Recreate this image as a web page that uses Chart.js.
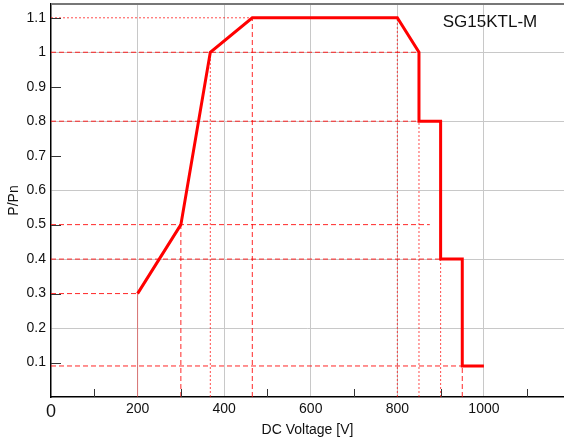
<!DOCTYPE html>
<html>
<head>
<meta charset="utf-8">
<script src="https://cdn.jsdelivr.net/npm/chart.js@4.4.1/dist/chart.umd.min.js"></script>
<style>
  html, body { margin: 0; padding: 0; background: #fff; }
  #wrap { width: 564px; height: 444px; }
</style>
</head>
<body>
<div id="wrap"><canvas id="derating"></canvas></div>
<script>
// derating curve
var voltage = [200, 300, 368, 465, 800, 850, 850, 900, 900, 950, 950, 1000];
var power   = [0.3, 0.5, 1.0, 1.1, 1.1, 1.0, 0.8, 0.8, 0.4, 0.4, 0.09, 0.09];

// horizontal helper lines (level, where they stop, dashed or dotted)
var hLevels = [1.1, 1.0, 0.8, 0.5, 0.4, 0.3, 0.09];
var hEnds   = [800, 850, 850, 875, 900, 200, 950];
var hStyle  = ['dot', 'dash', 'dash', 'dash', 'dash', 'dash', 'dash'];

// vertical helper lines
var vPos    = [200, 300, 368, 465, 800, 850, 900, 950];
var vTops   = [0.3, 0.5, 1.0, 1.1, 1.1, 0.8, 0.4, 0.09];
var vStyle  = ['solid', 'dash', 'dot', 'dash', 'dot', 'dot', 'dot', 'dash'];

var xTicks = [0, 200, 400, 600, 800, 1000];
var modelName = 'SG15KTL-M';

function lineStyle(kind) {
    if (kind === 'dash') return { color: 'rgba(255,0,0,0.85)', dash: [5, 3] };
    if (kind === 'dot')  return { color: 'rgba(255,0,0,0.7)', dash: [2, 2] };
    return { color: 'rgba(230,60,60,0.6)', dash: [] };
}

var datasets = [];
hLevels.forEach(function(lv, i) {
    var s = lineStyle(hStyle[i]);
    datasets.push({
        data: [{x: 0, y: lv}, {x: hEnds[i], y: lv}],
        borderColor: s.color, borderDash: s.dash, borderWidth: 1,
        pointRadius: 0, fill: false
    });
});
vPos.forEach(function(v, i) {
    var s = lineStyle(vStyle[i]);
    datasets.push({
        data: [{x: v, y: 0}, {x: v, y: vTops[i]}],
        borderColor: s.color, borderDash: s.dash, borderWidth: 1,
        pointRadius: 0, fill: false
    });
});
datasets.push({
    data: voltage.map(function(v, i) { return {x: v, y: power[i]}; }),
    borderColor: '#ff0000', borderWidth: 3, pointRadius: 0,
    fill: false, borderJoinStyle: 'miter'
});

// small inner ticks + top frame + model name
var decor = {
    id: 'decor',
    afterDraw: function(chart) {
        var c = chart.ctx, a = chart.chartArea;
        var xs = chart.scales.x, ys = chart.scales.y;
        c.save();
        c.strokeStyle = '#333';
        c.lineWidth = 1;
        [100, 300, 500, 700, 900, 1100].forEach(function(v) {
            var px = Math.round(xs.getPixelForValue(v)) + 0.5;
            c.beginPath(); c.moveTo(px, a.bottom); c.lineTo(px, a.bottom - 8); c.stroke();
        });
        [0.1, 0.3, 0.5, 0.7, 0.9, 1.1].forEach(function(v) {
            var py = Math.round(ys.getPixelForValue(v)) + 0.5;
            c.beginPath(); c.moveTo(a.left, py); c.lineTo(a.left + 10, py); c.stroke();
        });
        c.strokeStyle = '#777';
        c.lineWidth = 2;
        c.beginPath(); c.moveTo(a.left, a.top); c.lineTo(a.right, a.top); c.stroke();
        c.fillStyle = '#111';
        c.font = '17px "Liberation Sans", Arial, sans-serif';
        c.textAlign = 'center';
        c.textBaseline = 'middle';
        c.fillText(modelName, 490, 22);
        c.restore();
    }
};

new Chart(document.getElementById('derating'), {
    type: 'line',
    data: { datasets: datasets },
    plugins: [decor],
    options: {
        responsive: true,
        maintainAspectRatio: false,
        animation: false,
        layout: { padding: { left: 0, top: 4, right: 0, bottom: 0 } },
        plugins: { legend: { display: false }, tooltip: { enabled: false } },
        scales: {
            x: {
                type: 'linear', min: 0, max: 1185,
                afterBuildTicks: function(scale) {
                    scale.ticks = xTicks.map(function(v) { return {value: v}; });
                },
                afterFit: function(scale) {
                    scale.height = 47;
                    scale.paddingLeft = 0; scale.paddingRight = 0;
                },
                grid: {
                    color: function(ctx) { return ctx.tick && ctx.tick.value === 0 ? 'rgba(0,0,0,0)' : '#c8c8c8'; },
                    drawTicks: false
                },
                border: { color: '#000', width: 1.5 },
                ticks: {
                    padding: 4, color: '#111', maxRotation: 0, autoSkip: false,
                    callback: function(v) { return String(v); },
                    font: function(ctx) {
                        return ctx.tick && ctx.tick.value === 0
                            ? { family: '"Liberation Sans", Arial', size: 18 }
                            : { family: '"Liberation Sans", Arial', size: 14 };
                    }
                },
                title: {
                    display: true, text: 'DC Voltage [V]', color: '#111',
                    font: { family: '"Liberation Sans", Arial', size: 14 },
                    padding: { top: 0, bottom: 5 }
                }
            },
            y: {
                type: 'linear', min: 0, max: 1.14,
                afterBuildTicks: function(scale) {
                    var t = [];
                    for (var k = 1; k <= 11; k++) t.push({value: k / 10});
                    scale.ticks = t;
                },
                afterFit: function(scale) {
                    scale.width = 51;
                    scale.paddingTop = 0; scale.paddingBottom = 0;
                },
                grid: {
                    color: function(ctx) {
                        var v = ctx.tick ? Math.round(ctx.tick.value * 10) : 1;
                        return v % 2 === 0 ? '#c8c8c8' : 'rgba(0,0,0,0)';
                    },
                    drawTicks: false
                },
                border: { color: '#000', width: 1.5 },
                ticks: {
                    padding: 5, color: '#111', autoSkip: false,
                    font: { family: '"Liberation Sans", Arial', size: 14 },
                    callback: function(v) { return String(Math.round(v * 10) / 10); }
                },
                title: {
                    display: true, text: 'P/Pn', color: '#111',
                    font: { family: '"Liberation Sans", Arial', size: 14 },
                    padding: { top: 6, bottom: 0 }
                }
            }
        }
    }
});
</script>
</body>
</html>
